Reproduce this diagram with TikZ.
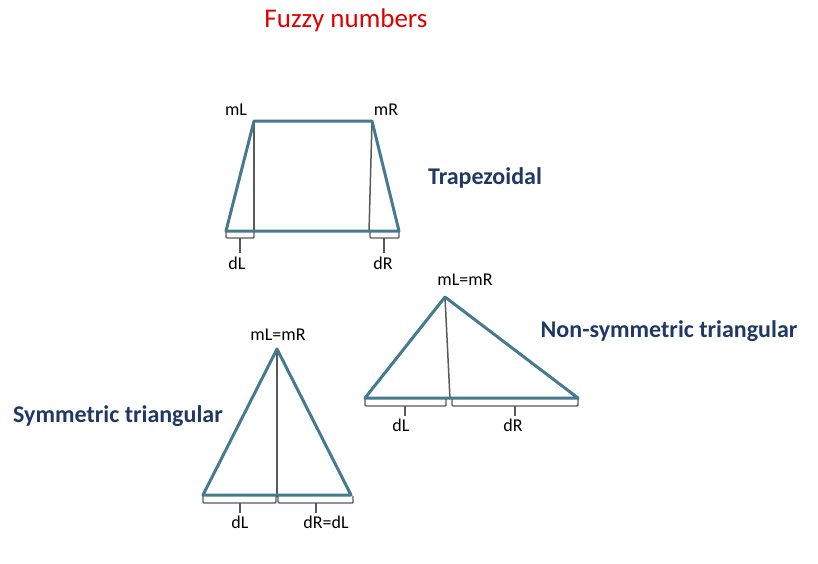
\documentclass[tikz,border=0pt]{standalone}
\usepackage{fontspec}
\setmainfont{Carlito}
\usepackage{xcolor}
\definecolor{edgeblue}{RGB}{70,122,142}
\definecolor{titlenavy}{RGB}{31,56,100}
\definecolor{titlered}{RGB}{224,0,0}
\tikzset{
  fuzzyedge/.style={draw=edgeblue, line width=3pt, line join=round},
  mark line/.style={draw=black!65, line width=1.5pt},
  brk/.style={draw=black!65, line width=1.4pt, rounded corners=1pt},
  lab/.style={font=\fontsize{18}{20}\selectfont, text=black, inner sep=0pt},
  kind/.style={font=\fontsize{24}{28}\selectfont\bfseries, text=titlenavy, inner sep=0pt}
}

\begin{document}
\begin{tikzpicture}[x=1pt,y=-1pt]
\useasboundingbox (0,0) rectangle (818,563);

\node[font=\fontsize{27}{32}\selectfont, text=titlered, inner sep=0pt] (title) at (346,20) {Fuzzy numbers};

% Trapezoidal (top)
\coordinate (t1) at (226,231);
\coordinate (t2) at (254,121);
\coordinate (t3) at (372,121);
\coordinate (t4) at (399,231);
\draw[mark line] (t2) -- (254,232);
\draw[mark line] (t3) -- (369,232);
\draw[fuzzyedge] (t1) -- (t2) -- (t3) -- (t4) -- cycle;
\draw[brk] (226,232) -- (226,238) -- (254,238) -- (254,232);
\draw[brk] (240,238) -- (240,253);
\draw[brk] (370,232) -- (370,238) -- (399,238) -- (399,232);
\draw[brk] (384,238) -- (384,253);
\node[lab] (tml) at (236,110) {mL};
\node[lab] (tmr) at (386,110) {mR};
\node[lab] (tdl) at (237,263) {dL};
\node[lab] (tdr) at (383,263) {dR};
\node[kind] (trap) at (485,178) {Trapezoidal};

% Symmetric triangular (bottom left)
\coordinate (s1) at (203,495);
\coordinate (s2) at (277,349);
\coordinate (s3) at (351,495);
\draw[mark line] (s2) -- (277,497);
\draw[fuzzyedge] (s1) -- (s2) -- (s3) -- cycle;
\draw[brk] (203,496) -- (203,503) -- (276,503) -- (276,496);
\draw[brk] (240,503) -- (240,513);
\draw[brk] (278,496) -- (278,503) -- (353,503) -- (353,496);
\draw[brk] (316,503) -- (316,513);
\node[lab] (sm) at (278,335) {mL=mR};
\node[lab] (sdl) at (240,522) {dL};
\node[lab] (sdr) at (326,522) {dR=dL};
\node[kind] (sym) at (118,416) {Symmetric triangular};

% Non-symmetric triangular (bottom right)
\coordinate (n1) at (365,398);
\coordinate (n2) at (445,297);
\coordinate (n3) at (578,398);
\draw[mark line] (n2) -- (450,399);
\draw[fuzzyedge] (n1) -- (n2) -- (n3) -- cycle;
\draw[brk] (365,399) -- (365,406) -- (446,406) -- (446,399);
\draw[brk] (405,406) -- (405,416);
\draw[brk] (452,399) -- (452,406) -- (578,406) -- (578,399);
\draw[brk] (515,406) -- (515,416);
\node[lab] (nm) at (465,280) {mL=mR};
\node[lab] (ndl) at (401,425) {dL};
\node[lab] (ndr) at (513,425) {dR};
\node[kind] (nsym) at (669,331) {Non-symmetric triangular};
\end{tikzpicture}
\end{document}
